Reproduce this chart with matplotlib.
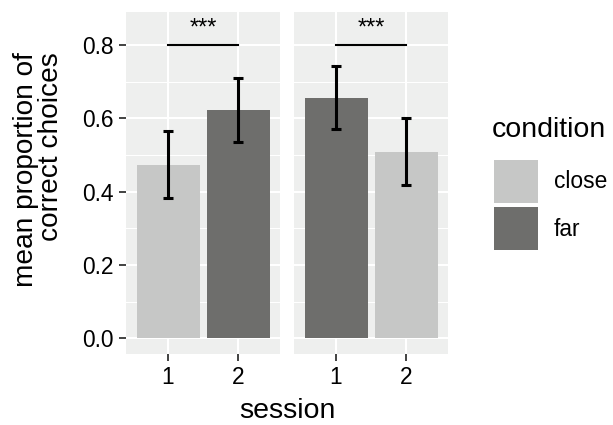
import matplotlib
matplotlib.use("Agg")
import matplotlib.pyplot as plt
from matplotlib.patches import Patch

plt.rcParams['font.family'] = ['Liberation Sans', 'DejaVu Sans']

# datos
sessions = ['1', '2']
left_cond = ['close', 'far']
left_mean = [0.473, 0.623]
left_lo = [0.383, 0.535]
left_hi = [0.565, 0.711]

right_cond = ['far', 'close']
right_mean = [0.655, 0.508]
right_lo = [0.572, 0.417]
right_hi = [0.743, 0.600]

sig_label = '***'
sig_y = 0.8
y_ticks = [0.0, 0.2, 0.4, 0.6, 0.8]
y_ticklabels = ['0.0', '0.2', '0.4', '0.6', '0.8']

colores = {'close': '#C6C7C6', 'far': '#6E6E6C'}
fondo = '#EEEFEE'

W, H = 613, 425
fig = plt.figure(figsize=(W / 100, H / 100), dpi=100)

def panel(left_px, cond, mean, lo, hi):
    ax = fig.add_axes([left_px / W, (H - 354) / H, 154 / W, 342 / H])
    ax.set_facecolor(fondo)
    for s in ax.spines.values():
        s.set_visible(False)
    ax.set_xlim(-0.6, 1.6)
    ax.set_ylim(-0.0427, 0.8901)
    ax.set_yticks(y_ticks)
    ax.set_yticks([0.1, 0.3, 0.5, 0.7], minor=True)
    ax.set_xticks(range(len(sessions)))
    ax.set_xticklabels(sessions)
    ax.grid(True, which='major', color='white', linewidth=1.5)
    ax.grid(True, which='minor', axis='y', color='white', linewidth=0.75)
    ax.set_axisbelow(True)
    x = list(range(len(sessions)))
    ax.bar(x, mean, width=0.9, color=[colores[c] for c in cond], zorder=2)
    yerr = [[m - l for m, l in zip(mean, lo)], [h - m for m, h in zip(mean, hi)]]
    ax.errorbar(x, mean, yerr=yerr, fmt='none', ecolor='black',
                elinewidth=2.2, capsize=3.9, capthick=2.2, zorder=3)
    # barra de significancia
    ax.plot([0, 1], [sig_y, sig_y], color='black', linewidth=1.5, zorder=3)
    ax.text(0.5, sig_y + 0.045, sig_label, ha='center', va='center',
            fontsize=17, zorder=3)
    ax.tick_params(axis='both', which='major', length=5, width=1.3,
                   color='#333333', labelsize=16.4, labelcolor='black', pad=4)
    ax.tick_params(axis='y', which='minor', length=0)
    return ax

ax1 = panel(126, left_cond, left_mean, left_lo, left_hi)
ax1.set_yticklabels(y_ticklabels)
ax2 = panel(294, right_cond, right_mean, right_lo, right_hi)
ax2.tick_params(axis='y', which='both', left=False, labelleft=False)

# titulos de ejes
fig.text(287 / W, 1 - 411 / H, 'session', ha='center', va='center', fontsize=20.5)
fig.text(39 / W, 1 - 169.5 / H, 'mean proportion of\ncorrect choices',
         rotation=90, ha='center', va='center', multialignment='right',
         fontsize=20.2, linespacing=0.95)

# leyenda
fig.text(492 / W, 1 - 130 / H, 'condition', ha='left', va='center', fontsize=20.5)
handles = [Patch(facecolor=colores['close'], edgecolor='none'),
           Patch(facecolor=colores['far'], edgecolor='none')]
fig.legend(handles, ['close', 'far'], loc='upper left',
           bbox_to_anchor=(494 / W, 1 - 160 / H), frameon=False,
           borderpad=0, borderaxespad=0, fontsize=16.4,
           handlelength=1.93, handleheight=2.53, labelspacing=0.18,
           handletextpad=0.7)

fig.savefig('out.png', dpi=100)
